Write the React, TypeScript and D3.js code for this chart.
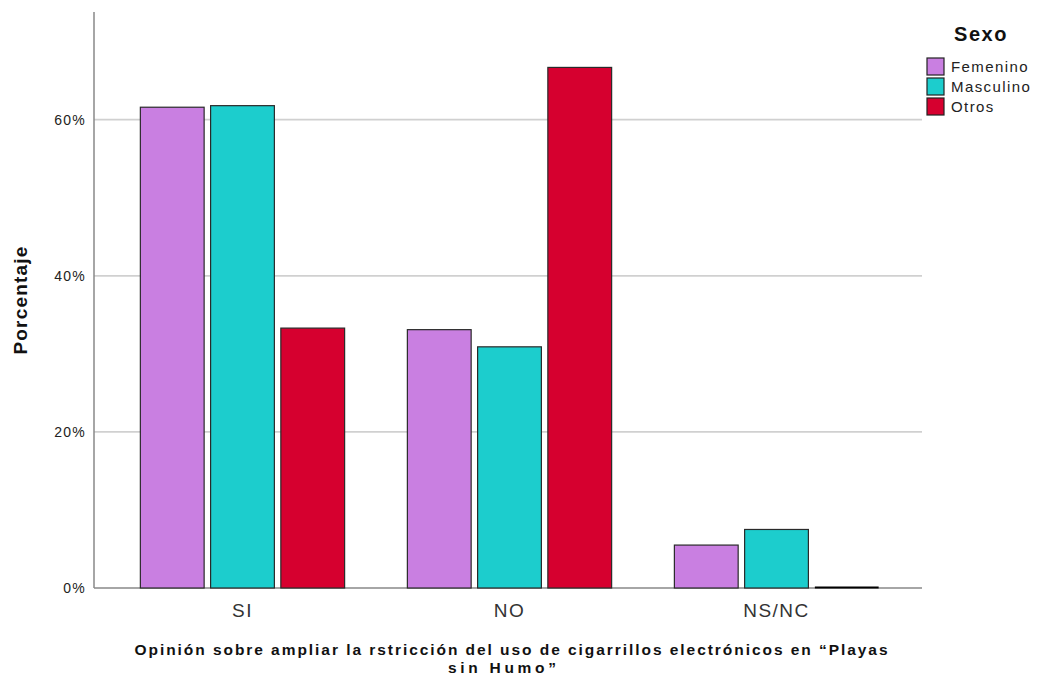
import React from "react";
import * as d3 from "d3";

const categories = ["SI", "NO", "NS/NC"];
const seriesNames = ["Femenino", "Masculino", "Otros"];
const femenino = [61.6, 33.1, 5.5];
const masculino = [61.8, 30.9, 7.5];
const otros = [33.3, 66.7, 0];
const yTicks = [0, 20, 40, 60];
const colors = ["#c97fe1", "#1ccdcd", "#d6002f"];

const W = 1038;
const H = 677;
const left = 94;
const right = 922;
const top = 12;
const bottom = 588;

export default function App() {
  const values = [femenino, masculino, otros];
  const x0 = d3.scaleBand<string>().domain(categories).range([left + 1.5, right + 1.5]).paddingInner(0.235).paddingOuter(0.168);
  const x1 = d3.scaleBand<string>().domain(seriesNames).range([0, x0.bandwidth()]).paddingInner(0.092).paddingOuter(0);
  const y = d3.scaleLinear().domain([0, 73.8]).range([bottom, top]);
  const font = "'Liberation Sans', Arial, sans-serif";

  return (
    <svg width={W} height={H} style={{ position: "absolute", left: 0, top: 0, background: "#fff" }}>
      {yTicks.filter((t) => t > 0).map((t) => (
        <line key={"g" + t} x1={left} x2={right} y1={y(t)} y2={y(t)} stroke="#d0d0d0" strokeWidth={1.8} />
      ))}
      {yTicks.map((t) => (
        <text key={"t" + t} x={86} y={y(t) + 5} textAnchor="end" fontFamily={font} fontSize={14} letterSpacing={1.2} fill="#222">
          {t}%
        </text>
      ))}
      <line x1={left} x2={left} y1={top} y2={bottom} stroke="#888" strokeWidth={1.5} />
      <line x1={left} x2={right} y1={bottom} y2={bottom} stroke="#888" strokeWidth={1.5} />
      {categories.map((c, ci) =>
        seriesNames.map((s, si) => {
          const v = values[si][ci];
          const bx = (x0(c) as number) + (x1(s) as number);
          const bw = x1.bandwidth();
          if (v <= 0) {
            return <line key={c + s} x1={bx} x2={bx + bw} y1={y(0) - 0.5} y2={y(0) - 0.5} stroke="#000" strokeWidth={2.2} />;
          }
          return (
            <rect key={c + s} x={bx} y={y(v)} width={bw} height={y(0) - y(v)} fill={colors[si]} stroke="#2a2a2a" strokeWidth={1.2} />
          );
        })
      )}
      {categories.map((c) => (
        <text key={"c" + c} x={(x0(c) as number) + x0.bandwidth() / 2} y={617} textAnchor="middle" fontFamily={font} fontSize={19} letterSpacing={1.5} fill="#333">
          {c}
        </text>
      ))}
      <text transform="translate(27,300) rotate(-90)" textAnchor="middle" fontFamily={font} fontSize={19} fontWeight="bold" letterSpacing={1.2} fill="#111">
        Porcentaje
      </text>
      <text x={511} y={655} textAnchor="middle" fontFamily={font} fontSize={15.5} fontWeight="bold" fill="#111" textLength={753} lengthAdjust="spacing">
        Opinión sobre ampliar la rstricción del uso de cigarrillos electrónicos en “Playas
      </text>
      <text x={502} y={673} textAnchor="middle" fontFamily={font} fontSize={15.5} fontWeight="bold" fill="#111" textLength={108} lengthAdjust="spacing">
        sin Humo”
      </text>
      <text x={981} y={41} textAnchor="middle" fontFamily={font} fontSize={20} fontWeight="bold" letterSpacing={1.5} fill="#111">
        Sexo
      </text>
      {seriesNames.map((s, i) => (
        <g key={"l" + s} transform={`translate(927,${58 + i * 20})`}>
          <rect x={0} y={0} width={17} height={17} fill={colors[i]} stroke="#222" strokeWidth={1.2} />
          <text x={24} y={14} fontFamily={font} fontSize={15} letterSpacing={1.4} fill="#222">
            {s}
          </text>
        </g>
      ))}
    </svg>
  );
}
